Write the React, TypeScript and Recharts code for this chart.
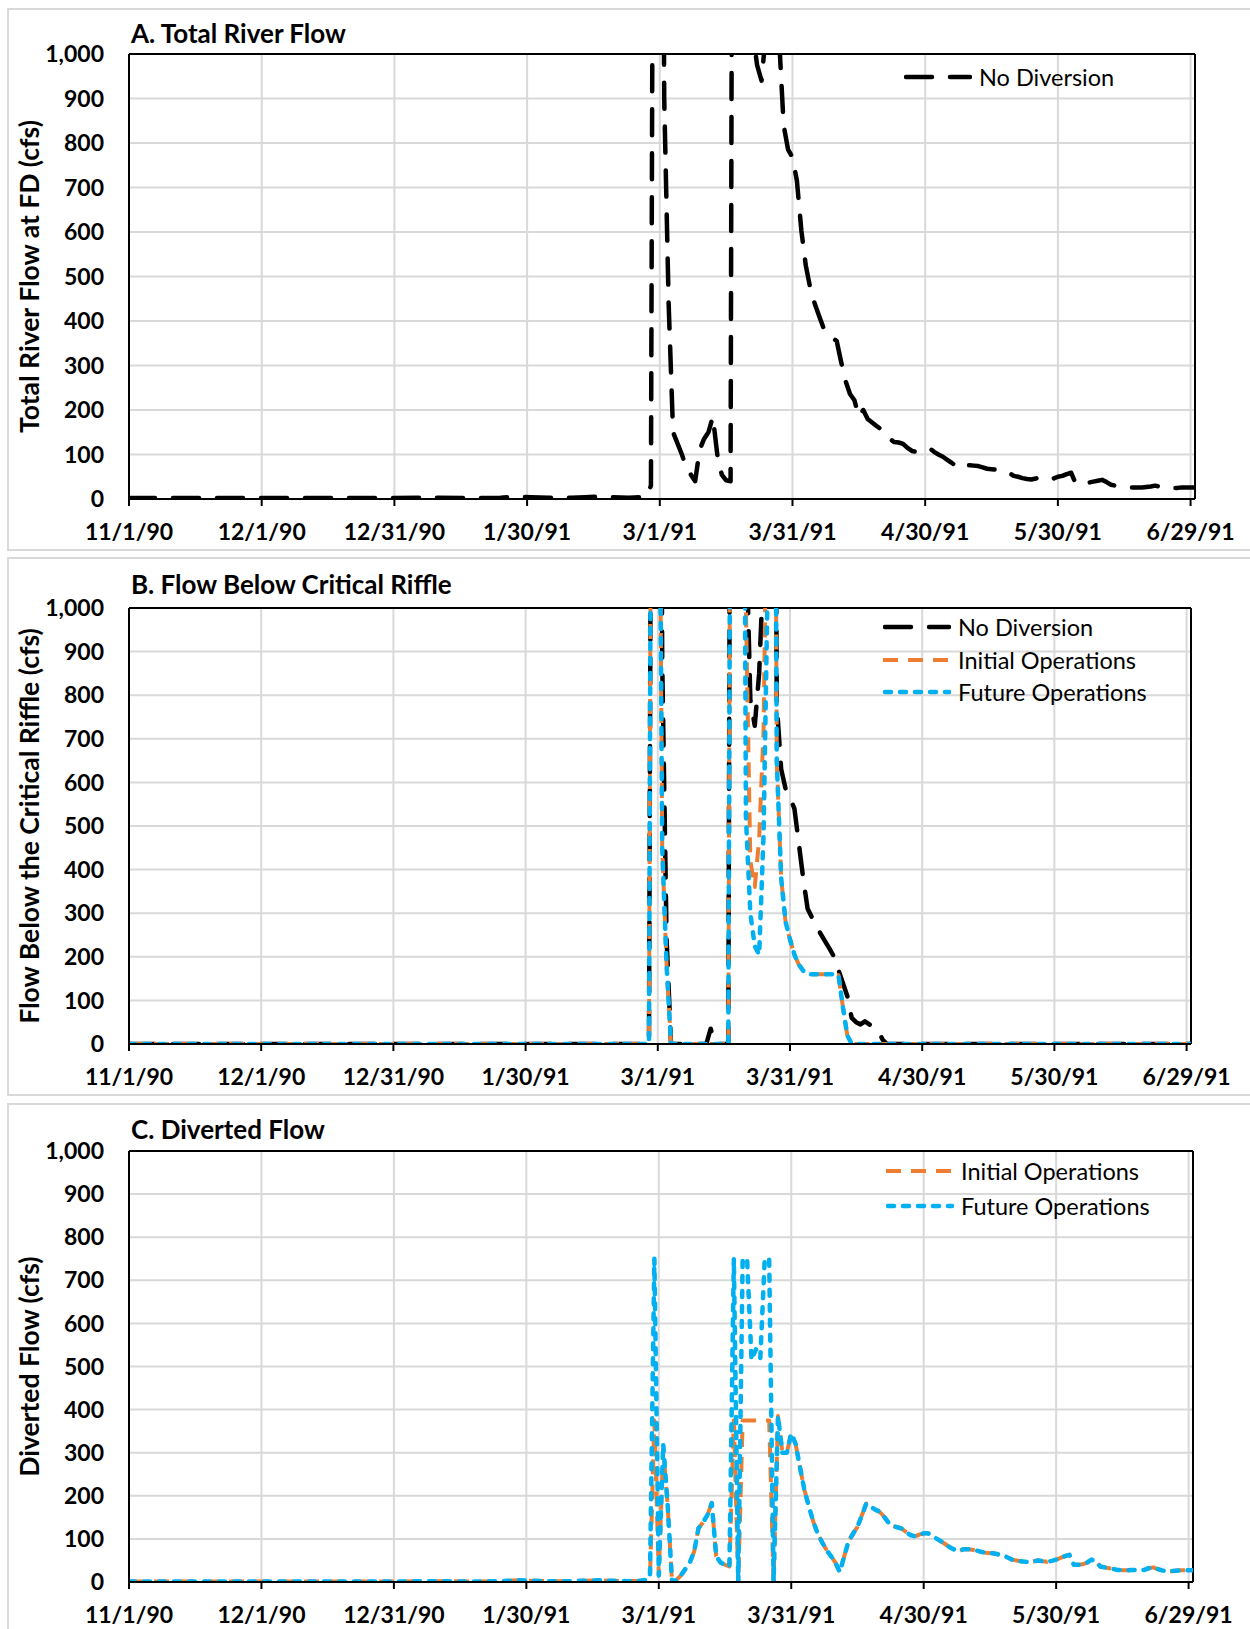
import React from "react";
import { LineChart, Line, XAxis, YAxis, CartesianGrid, ReferenceLine } from "recharts";

// x axis is days since 11/1/90
const TICK_DAYS = [0, 30, 60, 90, 120, 150, 180, 210, 240];
const TICK_LABELS = ["11/1/90", "12/1/90", "12/31/90", "1/30/91", "3/1/91", "3/31/91", "4/30/91", "5/30/91", "6/29/91"];
const Y_TICKS = [0, 100, 200, 300, 400, 500, 600, 700, 800, 900, 1000];

type Pt = [number, number]; // [day, cfs]

// A. total river flow at FD, no diversion
const TOTAL_FLOW: Pt[] = [
  [0, 2], [30, 2], [60, 2], [70, 3], [78, 2], [84, 3], [88, 5], [91, 4], [95, 3], [100, 3], [103, 4], [106, 5],
  [109, 4], [113, 3], [116, 4], [117, 5], [118, 30], [119, 3200], [120, 3000], [121, 900], [122, 440], [123, 150],
  [124, 125], [125, 100], [126, 70], [127, 55], [128, 40], [129, 110], [130, 135], [131, 150], [132, 185], [133, 100],
  [134, 55], [135, 42], [136, 40], [137, 4000], [138, 5000], [139, 4000], [140, 2500], [141, 1050], [142, 975],
  [143, 940], [144, 1050], [145, 1400], [146, 1300], [147, 1030], [148, 840], [149, 785], [150, 768], [151, 715],
  [152, 604], [153, 525], [154, 475], [155, 440], [156, 412], [157, 385], [158, 370], [159, 362], [160, 355],
  [161, 308], [162, 265], [163, 236], [164, 222], [165, 185], [166, 200], [167, 180], [168, 172], [169, 164],
  [170, 157], [171, 150], [172, 135], [173, 128], [174, 127], [175, 124], [176, 115], [177, 108], [178, 106],
  [179, 110], [180, 113], [181, 114], [182, 106], [183, 100], [184, 95], [185, 88], [186, 81], [187, 74], [188, 69],
  [189, 76], [190, 76], [191, 75], [192, 74], [193, 71], [194, 68], [195, 67], [196, 66], [197, 65], [198, 64],
  [199, 59], [200, 52], [201, 50], [202, 47], [203, 45], [204, 44], [205, 46], [206, 49], [207, 47], [208, 44],
  [209, 46], [210, 50], [211, 52], [212, 56], [213, 59], [214, 35], [215, 36], [216, 37], [217, 37], [218, 39],
  [219, 41], [220, 43], [221, 38], [222, 32], [223, 30], [224, 28], [225, 26], [226, 26], [227, 26], [228, 26],
  [229, 26], [230, 27], [231, 28], [232, 30], [233, 28], [234, 25], [235, 24], [236, 25], [237, 25], [238, 26],
  [239, 26], [240, 26], [241, 26],
];

// B. flow below the critical riffle
const RIFFLE_NO_DIV: Pt[] = [
  [0, 0], [118, 0], [119, 3000], [120, 3000], [121, 880], [122, 240], [123, 0], [131, 0], [132, 35], [133, 0],
  [136, 0], [137, 3500], [138, 4500], [139, 3500], [140, 1200], [141, 790], [142, 730], [143, 850], [144, 1100],
  [145, 2000], [146, 3000], [147, 780], [148, 630], [149, 585], [150, 565], [151, 540], [152, 460], [153, 380],
  [154, 310], [155, 290], [156, 270], [157, 252], [158, 235], [159, 218], [160, 200], [161, 170], [162, 140],
  [163, 110], [164, 60], [165, 50], [166, 45], [167, 52], [168, 45], [169, 38], [170, 32], [171, 10], [172, 0],
  [241, 0],
];
const RIFFLE_OPS_START: Pt[] = [
  [0, 0], [118, 0], [119, 3000], [120, 2000], [121, 450], [122, 180], [123, 0], [136, 0], [137, 3000], [138, 4000],
  [139, 3000],
];
const RIFFLE_INIT_PEAK: Pt[] = [[140, 1000], [141, 420], [142, 360], [143, 470], [144, 720], [145, 1500]];
const RIFFLE_FUT_PEAK: Pt[] = [[140, 520], [141, 300], [142, 225], [143, 205], [144, 480], [145, 1100]];
const RIFFLE_OPS_END: Pt[] = [
  [146, 3000], [147, 650], [148, 380], [149, 280], [150, 240], [151, 205], [152, 182], [153, 168], [154, 160],
  [155, 160], [156, 160], [157, 160], [158, 160], [159, 160], [160, 160], [161, 158], [162, 85], [163, 20],
  [164, 0], [241, 0],
];

// C. diverted flow
const DIVERTED_EARLY: Pt[] = [
  [0, 1], [30, 1], [60, 1], [70, 2], [78, 1], [84, 2], [88, 4], [91, 3], [95, 2], [100, 2], [103, 3], [106, 4],
  [109, 3], [113, 2], [116, 3], [117, 5], [118, 10],
];
const DIVERTED_INIT_FIRST: Pt[] = [[119, 375], [120, 15], [121, 310], [122, 180]];
const DIVERTED_FUT_FIRST: Pt[] = [[119, 750], [120, 15], [121, 320], [122, 180]];
const DIVERTED_MID: Pt[] = [
  [123, 0], [124, 5], [125, 15], [126, 30], [127, 45], [128, 70], [129, 125], [130, 138], [131, 155], [132, 183],
  [133, 60], [134, 45], [135, 40], [136, 36],
];
const DIVERTED_INIT_SECOND: Pt[] = [
  [137, 375], [138, 0], [139, 375], [140, 375], [141, 375], [142, 375], [143, 375], [144, 375], [145, 375],
];
const DIVERTED_FUT_SECOND: Pt[] = [
  [137, 750], [138, 0], [139, 750], [140, 750], [141, 515], [142, 540], [143, 520], [144, 750], [145, 750],
];
const DIVERTED_END: Pt[] = [
  [146, 0], [147, 385], [148, 300], [149, 300], [150, 345], [151, 320], [152, 265], [153, 213], [154, 175],
  [155, 140], [156, 112], [157, 92], [158, 74], [159, 60], [160, 45], [161, 23], [162, 60], [163, 95], [164, 112],
  [165, 128], [166, 155], [167, 182], [168, 175], [169, 168], [170, 163], [171, 152], [172, 138], [173, 130],
  [174, 127], [175, 124], [176, 116], [177, 109], [178, 106], [179, 110], [180, 113], [181, 113], [182, 106],
  [183, 100], [184, 94], [185, 87], [186, 80], [187, 75], [188, 72], [189, 76], [190, 76], [191, 75], [192, 73],
  [193, 70], [194, 68], [195, 67], [196, 66], [197, 64], [198, 62], [199, 57], [200, 52], [201, 50], [202, 48],
  [203, 47], [204, 46], [205, 48], [206, 50], [207, 48], [208, 47], [209, 49], [210, 52], [211, 56], [212, 60],
  [213, 63], [214, 40], [215, 40], [216, 41], [217, 45], [218, 52], [219, 47], [220, 36], [221, 34], [222, 32],
  [223, 30], [224, 28], [225, 27], [226, 27], [227, 28], [228, 28], [229, 27], [230, 28], [231, 32], [232, 34],
  [233, 30], [234, 27], [235, 25], [236, 25], [237, 26], [238, 27], [239, 27], [240, 27], [241, 27],
];

const FONT = "Lato, 'Open Sans', sans-serif";
const W = 1250;

const STYLES = {
  none: { name: "No Diversion", stroke: "#000000", dash: "26 18", cap: "round" as const, width: 4.5 },
  init: { name: "Initial Operations", stroke: "#ED7D31", dash: "15 10", cap: "butt" as const, width: 4 },
  fut: { name: "Future Operations", stroke: "#00B0F0", dash: "6 9", cap: "round" as const, width: 4.5 },
};

type SeriesKey = keyof typeof STYLES;

const toRows = (pts: Pt[]) => pts.map(([day, cfs]) => ({ day, cfs }));

const PANELS = [
  {
    title: "A. Total River Flow",
    yLabel: "Total River Flow at FD (cfs)",
    boxTop: 8, boxH: 543, plotTop: 54, plotBottom: 499, plotRight: 1195,
    titleY: 34, legendX: 904, legendRows: [77],
    series: [{ key: "none" as SeriesKey, points: TOTAL_FLOW }],
  },
  {
    title: "B. Flow Below Critical Riffle",
    yLabel: "Flow Below the Critical Riffle (cfs)",
    boxTop: 557, boxH: 539, plotTop: 608, plotBottom: 1044, plotRight: 1191,
    titleY: 585, legendX: 883, legendRows: [627, 660, 692],
    series: [
      { key: "none" as SeriesKey, points: RIFFLE_NO_DIV },
      { key: "init" as SeriesKey, points: [...RIFFLE_OPS_START, ...RIFFLE_INIT_PEAK, ...RIFFLE_OPS_END] },
      { key: "fut" as SeriesKey, points: [...RIFFLE_OPS_START, ...RIFFLE_FUT_PEAK, ...RIFFLE_OPS_END] },
    ],
  },
  {
    title: "C. Diverted Flow",
    yLabel: "Diverted Flow (cfs)",
    boxTop: 1103, boxH: 560, plotTop: 1151, plotBottom: 1582, plotRight: 1193,
    titleY: 1130, legendX: 886, legendRows: [1171, 1206],
    series: [
      { key: "init" as SeriesKey, points: [...DIVERTED_EARLY, ...DIVERTED_INIT_FIRST, ...DIVERTED_MID, ...DIVERTED_INIT_SECOND, ...DIVERTED_END] },
      { key: "fut" as SeriesKey, points: [...DIVERTED_EARLY, ...DIVERTED_FUT_FIRST, ...DIVERTED_MID, ...DIVERTED_FUT_SECOND, ...DIVERTED_END] },
    ],
  },
];

const tickFont = { fontSize: 23, fontWeight: 700, fill: "#000", fontFamily: FONT };

function Panel({ cfg }: { cfg: (typeof PANELS)[number] }) {
  const xAxisH = 40;
  const chartH = Math.min(cfg.boxH, 1629 - cfg.boxTop);
  const mTop = cfg.plotTop - cfg.boxTop;
  const mBottom = chartH - (cfg.plotBottom - cfg.boxTop) - xAxisH;

  return (
    <>
      <div
        style={{
          position: "absolute", left: 7, top: cfg.boxTop, width: 1260, height: cfg.boxH,
          border: "2px solid #d9d9d9", boxSizing: "border-box",
        }}
      />
      <div style={{ position: "absolute", left: 0, top: cfg.boxTop }}>
        <LineChart width={W} height={chartH} margin={{ top: mTop, right: W - cfg.plotRight, bottom: mBottom, left: 0 }}>
          <CartesianGrid stroke="#d9d9d9" strokeWidth={2} />
          <XAxis
            dataKey="day"
            type="number"
            domain={[0, 241]}
            allowDataOverflow
            ticks={TICK_DAYS}
            interval={0}
            tickFormatter={(d: number) => TICK_LABELS[TICK_DAYS.indexOf(d)]}
            height={xAxisH}
            tickSize={7}
            tickMargin={18}
            axisLine={{ stroke: "#000", strokeWidth: 2 }}
            tickLine={{ stroke: "#000", strokeWidth: 2 }}
            tick={tickFont}
          />
          <YAxis
            type="number"
            domain={[0, 1000]}
            allowDataOverflow
            ticks={Y_TICKS}
            interval={0}
            width={129}
            tickSize={0}
            tickMargin={25}
            tickLine={false}
            axisLine={{ stroke: "#000", strokeWidth: 2 }}
            tickFormatter={(v: number) => v.toLocaleString("en-US")}
            tick={tickFont}
            label={{
              value: cfg.yLabel,
              angle: -90,
              position: "insideLeft",
              offset: 30,
              style: { textAnchor: "middle", fontSize: 26.5, fontWeight: 700, fill: "#000", fontFamily: FONT },
            }}
          />
          <ReferenceLine y={1000} stroke="#000" strokeWidth={2} />
          <ReferenceLine x={241} stroke="#000" strokeWidth={2} />
          {cfg.series.map((s) => {
            const st = STYLES[s.key];
            return (
              <Line
                key={s.key}
                name={st.name}
                data={toRows(s.points)}
                dataKey="cfs"
                type="linear"
                stroke={st.stroke}
                strokeWidth={st.width}
                strokeDasharray={st.dash}
                strokeLinecap={st.cap}
                strokeLinejoin="round"
                dot={false}
                activeDot={false}
                isAnimationActive={false}
              />
            );
          })}
        </LineChart>
      </div>
      <div
        style={{
          position: "absolute", left: 131, top: cfg.titleY - 17,
          fontSize: 26, fontWeight: 700, color: "#000", whiteSpace: "nowrap",
        }}
      >
        {cfg.title}
      </div>
      {cfg.series.map((s, i) => {
        const st = STYLES[s.key];
        return (
          <div
            key={s.key}
            style={{
              position: "absolute", left: cfg.legendX, top: cfg.legendRows[i] - 14, height: 28,
              display: "flex", alignItems: "center", whiteSpace: "nowrap",
            }}
          >
            <svg width={68} height={28} style={{ marginRight: 7 }}>
              <line
                x1={st.cap === "round" ? 2 : 0} y1={14} x2={66} y2={14}
                stroke={st.stroke} strokeWidth={st.width} strokeDasharray={st.dash} strokeLinecap={st.cap}
              />
            </svg>
            <span style={{ fontSize: 23.5, lineHeight: "28px", color: "#000" }}>{st.name}</span>
          </div>
        );
      })}
    </>
  );
}

export default function App() {
  return (
    <div style={{ position: "relative", width: W, height: 1629, overflow: "hidden", background: "#fff", fontFamily: FONT }}>
      <style>{"body{margin:0}"}</style>
      {PANELS.map((p) => (
        <Panel key={p.title} cfg={p} />
      ))}
    </div>
  );
}
